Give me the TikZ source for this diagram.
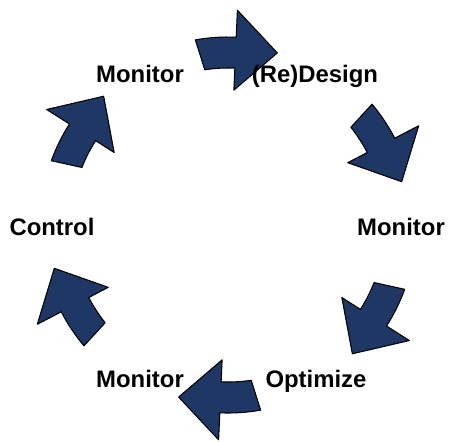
\documentclass[tikz,border=0pt]{standalone}
\usepackage{fontspec}
\setmainfont{Liberation Sans}
\definecolor{arrowblue}{RGB}{30,55,100}

\begin{document}
\begin{tikzpicture}[x=0.02cm,y=0.02cm]
    \tikzset{
        stage/.style={
            font=\fontsize{13.6}{16}\selectfont\bfseries,
            inner sep=0pt,
            anchor=base
        },
        cyclearrow/.pic={
            \draw[fill=arrowblue,draw=black,line width=0.6pt,line join=round]
                (26:188) arc[start angle=26,end angle=13.5,radius=188]
                -- (13.5:215) -- (0:179) -- (13.5:135) -- (13.5:157)
                arc[start angle=13.5,end angle=24.5,radius=157] -- cycle;
        }
    }

    \useasboundingbox (-228,-216) rectangle (221,225);
    \coordinate (c) at (0,0);

    \pic[rotate=74] at (c) {cyclearrow};
    \pic[rotate=14] at (c) {cyclearrow};
    \pic[rotate=-46] at (c) {cyclearrow};
    \pic[rotate=-106] at (c) {cyclearrow};
    \pic[rotate=-166] at (c) {cyclearrow};
    \pic[rotate=134] at (c) {cyclearrow};

    \node[stage] (design) at (87,143) {(Re)Design};
    \node[stage] (monitorr) at (173,-10) {Monitor};
    \node[stage] (optimize) at (88,-162) {Optimize};
    \node[stage] (monitorb) at (-88,-162) {Monitor};
    \node[stage] (control) at (-176,-10) {Control};
    \node[stage] (monitorl) at (-88,143) {Monitor};
\end{tikzpicture}
\end{document}
